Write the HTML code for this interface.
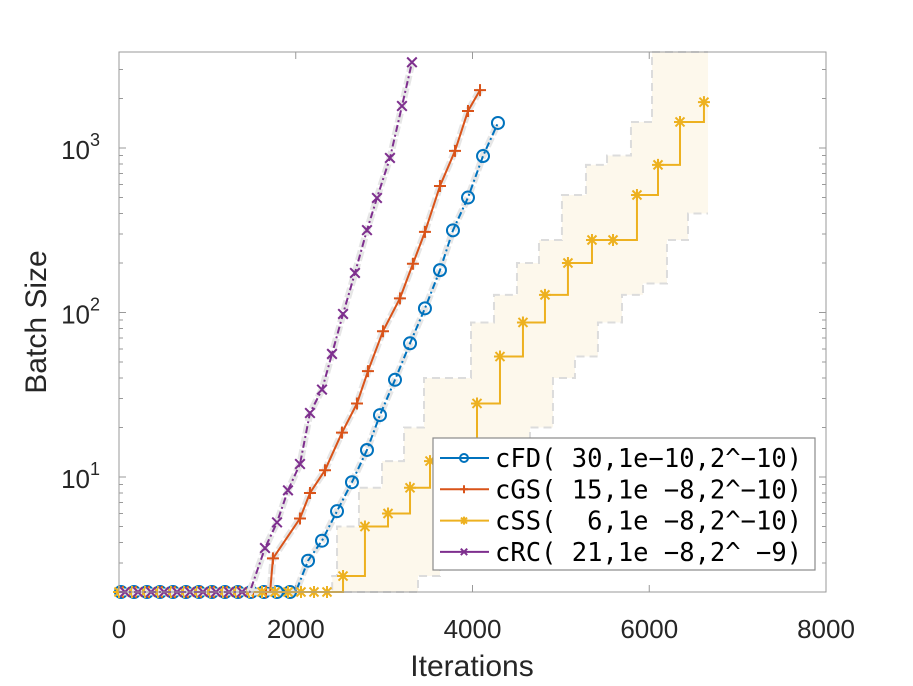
<!DOCTYPE html>
<html><head><meta charset="utf-8"><style>
html,body{margin:0;padding:0;background:#fff;}
svg{display:block;}
text{font-family:"Liberation Sans",sans-serif;}
.mono{font-family:"DejaVu Sans Mono","Liberation Mono",monospace;}
</style></head><body>
<svg id="chart" width="913" height="686" viewBox="0 0 913 686" xmlns="http://www.w3.org/2000/svg">
<g id="bands"></g>
<g id="series"></g>
<g id="axes"></g>
<g id="legend"></g>
</svg>
<script>
const xTicks = [0, 2000, 4000, 6000, 8000];
const yTicks = [10, 100, 1000];
const yTickExp = ["1", "2", "3"];
const seriesNames = ["cFD( 30,1e\u221210,2^\u221210)", "cGS( 15,1e \u22128,2^\u221210)", "cSS(  6,1e \u22128,2^\u221210)", "cRC( 21,1e \u22128,2^ \u22129)"];
const seriesColors = ["#0072BD", "#D95319", "#EDB120", "#7E2F8E"];
const seriesMarkers = ["o", "+", "*", "x"];
const fdX = [0, 2000, 2139, 2297, 2467, 2636, 2806, 2953, 3123, 3293, 3462, 3632, 3779, 3949, 4119, 4288];
const fdY = [2, 2, 3.1, 4.1, 6.2, 9.3, 14.6, 23.8, 39, 65, 106, 181, 316, 500, 894, 1420];
const gsX = [0, 1710, 1742, 2048, 2161, 2331, 2523, 2693, 2817, 2987, 3179, 3326, 3462, 3632, 3802, 3949, 4085];
const gsY = [2, 2, 3.2, 5.6, 8, 11, 18.6, 28, 44, 77, 122, 198, 309, 588, 960, 1680, 2250];
const ssX = [0, 2480, 2535, 2783, 3044, 3293, 3519, 4051, 4311, 4571, 4820, 5080, 5352, 5590, 5861, 6099, 6348, 6619];
const ssY = [2, 2, 2.5, 5, 6, 8.6, 12.5, 28, 54, 87, 128, 200, 276, 276, 518, 790, 1440, 1900];
const ssUpper = [2, 2.5, 5, 8.6, 12.5, 20, 40, 87, 128, 200, 276, 518, 790, 900, 1440, 4000, 4000, 4000];
const ssLower = [2, 2, 2, 2, 2.5, 5, 6, 8.6, 20, 40, 54, 87, 128, 150, 276, 400, 400, 400];
const rcX = [0, 1480, 1652, 1788, 1912, 2048, 2161, 2297, 2410, 2535, 2670, 2806, 2919, 3066, 3202, 3315];
const rcY = [2, 2, 3.7, 5.3, 8.3, 12, 24.5, 34, 56, 98, 174, 317, 497, 870, 1800, 3320];

const L=119,R=826,T=52,B=592;
const X = v => L + v/8000*(R-L);
const Y = v => B - (Math.log10(v) - Math.log10(2))*164.5;
const NS="http://www.w3.org/2000/svg";
function mk(tag, attrs, parent){const e=document.createElementNS(NS,tag);for(const k in attrs)e.setAttribute(k,attrs[k]);parent.appendChild(e);return e;}
const clipY = v => Math.max(T, Y(v));

function marker(type, cx, cy, color, parent, s){
  s = s||6;
  const g = mk('g',{},parent);
  
  
  const st={stroke:color,'stroke-width':2,fill:'none'};
  if(type==='o'){mk('circle',Object.assign({cx:cx,cy:cy,r:s},st),g);}
  else if(type==='+'){mk('path',Object.assign({d:`M${cx-s} ${cy}H${cx+s}M${cx} ${cy-s}V${cy+s}`},st),g);}
  else if(type==='x'){const d=s*0.8;mk('path',Object.assign({d:`M${cx-d} ${cy-d}L${cx+d} ${cy+d}M${cx-d} ${cy+d}L${cx+d} ${cy-d}`},st),g);}
  else {const d=s*0.75;mk('path',Object.assign({d:`M${cx-s} ${cy}H${cx+s}M${cx} ${cy-s}V${cy+s}M${cx-d} ${cy-d}L${cx+d} ${cy+d}M${cx-d} ${cy+d}L${cx+d} ${cy-d}`},st),g);}
}
function stairPts(xs, ys, shift){
  const pts=[[X(xs[0])+shift, clipY(ys[0])]];
  for(let i=1;i<xs.length;i++){pts.push([X(xs[i])+shift, clipY(ys[i-1])]);pts.push([X(xs[i])+shift, clipY(ys[i])]);}
  return pts;
}
const toD = pts => pts.map((p,i)=>(i?'L':'M')+p[0]+' '+p[1]).join('');
function line(xs, ys){return xs.map((x,i)=>(i?'L':'M')+X(x)+' '+clipY(ys[i])).join('');}

// yellow band
const bands=document.getElementById('bands');
{
  const endX = X(ssX[ssX.length-1])+4;
  const up = stairPts(ssX, ssUpper, -6).map(p=>[Math.min(p[0],endX),p[1]]);
  up.push([endX, up[up.length-1][1]]);
  const lo = stairPts(ssX, ssLower, 30).map(p=>[Math.min(p[0],endX),p[1]]);
  lo.push([endX, lo[lo.length-1][1]]);
  const poly = up.concat(lo.slice().reverse());
  const f=mk('path',{d:toD(poly)+'Z',fill:'#fdf8ec',stroke:'none'},bands);
  
  
  const u=mk('path',{d:toD(up),fill:'none',stroke:'#dcdcdc','stroke-width':2,'stroke-dasharray':'8,5'},bands);
  
  
  const l=mk('path',{d:toD(lo),fill:'none',stroke:'#dcdcdc','stroke-width':2,'stroke-dasharray':'8,5'},bands);
  
  
}

const seriesX=[fdX,gsX,ssX,rcX], seriesY=[fdY,gsY,ssY,rcY];
const sg=document.getElementById('series');
const flatOffset=[4,8,0,12];
for(let k=0;k<4;k++){
  const g=mk('g',{},sg);
  
  
  const xs=seriesX[k], ys=seriesY[k];
  if(k!==2){
    const bd=mk('path',{d:line(xs,ys),fill:'none',stroke:'#e6e6e6','stroke-width':7,'stroke-linejoin':'round','stroke-dasharray':'10,3'},g);
    
    
  }
  const p=mk('path',{d:k===2?toD(stairPts(xs,ys,0)):line(xs,ys),fill:'none',stroke:seriesColors[k],'stroke-width':2,'stroke-dasharray':k===1||k===2?'none':'7,3,2,3'},g);
  
  
  const endFlat=X(xs[1]);
  for(let px=L+flatOffset[k]/2; px<=endFlat; px+=13) marker(seriesMarkers[k],px,B,seriesColors[k],g,6);
  for(let i=2;i<xs.length;i++) marker(seriesMarkers[k],X(xs[i]),clipY(ys[i]),seriesColors[k],g,6);
}

// axes
const ax=document.getElementById('axes');
const box=mk('rect',{x:L,y:T,width:R-L,height:B-T,fill:'none',stroke:'#9a9a9a','stroke-width':1},ax);


xTicks.forEach(v=>{
  const x=X(v);
  mk('path',{d:`M${x} ${B}V${B-7}M${x} ${T}V${T+7}`,stroke:'#9a9a9a','stroke-width':1},ax);
  const t=mk('text',{x:x,y:638,'text-anchor':'middle','font-size':26,fill:'#262626'},ax);
  t.textContent=v;
  
  
});
for(let dec=1;dec<=1000;dec*=10){for(let m=1;m<10;m++){const v=dec*m;if(v<2||v>3837)continue;const y=Y(v);const len=m===1?7:4;
  mk('path',{d:`M${L} ${y}H${L+len}M${R} ${y}H${R-len}`,stroke:'#9a9a9a','stroke-width':1},ax);}}
yTicks.forEach((v,i)=>{
  const y=Y(v);
  const t=mk('text',{x:100,y:y+11,'text-anchor':'end','font-size':26,fill:'#262626'},ax);
  
  
  t.innerHTML='10<tspan font-size="18" dy="-13">'+yTickExp[i]+'</tspan>';
});
const xl=mk('text',{x:472,y:676,'text-anchor':'middle','font-size':30,fill:'#262626'},ax);
xl.textContent='Iterations';


const yl=mk('text',{x:0,y:0,'text-anchor':'middle','font-size':30,fill:'#262626',transform:'translate(46,322) rotate(-90)'},ax);
yl.textContent='Batch Size';



// legend
const lg=document.getElementById('legend');
const lb=mk('rect',{x:433,y:438,width:382,height:132,fill:'#fff',stroke:'#8a8a8a','stroke-width':1.2},lg);


seriesNames.forEach((n,i)=>{
  const y=458+i*31.3;
  const g=mk('g',{},lg);
  
  
  mk('path',{d:`M440 ${y}H489`,stroke:seriesColors[i],'stroke-width':2},g);
  marker(seriesMarkers[i],464,y,seriesColors[i],g,4);
  const t=mk('text',{x:495,y:y+9,'font-size':25.5,fill:'#000',class:'mono'},g);
  t.textContent=n;
  t.setAttribute('xml:space','preserve');
  t.style.whiteSpace='pre';
});
</script>
</body></html>
